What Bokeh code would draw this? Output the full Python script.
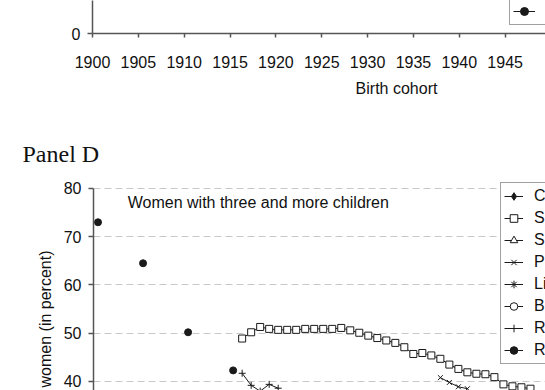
import math
from bokeh.plotting import figure
from bokeh.models import (Range1d, FixedTicker, Legend, LegendItem, Label,
                          ColumnDataSource)
from bokeh.layouts import column, row
from bokeh.transform import dodge
from bokeh.core.properties import value
from bokeh.embed import file_html
from bokeh.resources import INLINE

nan = float("nan")

# Legend order, marker shape and marker fill for every country
countries = ["Czech Republic", "Slovakia", "Slovenia", "Poland",
             "Lithuania", "Bulgaria", "Romania", "Russia"]
marker_types = ["diamond", "square", "triangle", "x",
                "asterisk", "circle", "cross", "circle"]
marker_fills = ["#1a1a1a", "white", "white", "#1a1a1a",
                "#1a1a1a", "white", "#1a1a1a", "#1a1a1a"]

# Panel D: women with three and more children (in percent), by birth cohort
russia_years = list(range(1900, 1916))
russia_share = [73.0, nan, nan, nan, nan, 64.5, nan, nan, nan, nan,
                50.2, nan, nan, nan, nan, 42.3]

slovakia_years = list(range(1916, 1949))
slovakia_share = [48.9, 50.2, 51.3, 50.9, 50.7, 50.7, 50.7, 50.9, 50.9, 50.9,
                  50.9, 51.1, 50.6, 50.1, 49.5, 49.0, 48.5, 48.0, 47.1, 45.7,
                  45.9, 45.4, 44.7, 43.5, 42.6, 41.9, 41.6, 41.5, 40.9, 39.4,
                  39.0, 38.8, 38.5]

poland_years = [1938, 1939, 1940, 1941]
poland_share = [40.8, 39.8, 38.9, 38.5]

romania_years = [1916, 1917, 1918, 1919, 1920]
romania_share = [41.7, 39.2, 38.0, 39.4, 38.6]

panel_d_data = {
    "Slovakia": (slovakia_years, slovakia_share),
    "Poland": (poland_years, poland_share),
    "Romania": (romania_years, romania_share),
    "Russia": (russia_years, russia_share),
}

year_ticks = list(range(1900, 1951, 5))
share_ticks = list(range(0, 81, 10))

FONT = "Liberation Sans"
INK = "#1a1a1a"
TEXT = "#111111"
AXIS = "#555555"


def bare(p):
    p.outline_line_color = None
    p.xgrid.visible = False
    p.ygrid.visible = False


def free_frame(p):
    # keep this plot's frame from being lined up with its neighbours
    try:
        p.frame_align = False
    except AttributeError:
        pass


def style_yaxis(p):
    for ax in p.yaxis:
        ax.ticker = FixedTicker(ticks=share_ticks)
        ax.bounds = (0, 80)
        ax.axis_line_color = AXIS
        ax.axis_line_width = 1.5
        ax.major_tick_line_color = AXIS
        ax.major_tick_line_width = 1.5
        ax.major_tick_out = 5
        ax.major_tick_in = 0
        ax.minor_tick_line_color = None
        ax.major_label_text_font = FONT
        ax.major_label_text_font_size = "16px"
        ax.major_label_text_color = TEXT
        ax.major_label_standoff = 7


def add_series(p, data):
    # one line + marker renderer per country; a country without values
    # gets a single empty (NaN) row so that its legend glyph still shows
    items = []
    for name, marker, fill in zip(countries, marker_types, marker_fills):
        years, share = data.get(name, ([nan], [nan]))
        src = ColumnDataSource(dict(year=years, share=share))
        xpos = dodge("year", 0.5, range=p.x_range)
        ln = p.line(x=xpos, y="share", source=src, line_color=INK, line_width=1)
        sc = p.scatter(x=xpos, y="share", source=src, marker=marker, size=7,
                       line_color=INK, fill_color=fill, line_width=1)
        items.append(LegendItem(label=name, renderers=[ln, sc]))
    return items


def make_legend(items, loc, glyph_width, label_standoff):
    return Legend(items=items, location=loc, orientation="vertical",
                  label_text_font=FONT, label_text_font_size="16px",
                  label_text_color=TEXT, label_standoff=label_standoff,
                  glyph_width=glyph_width, glyph_height=20, label_height=20,
                  spacing=2, padding=3, margin=0,
                  border_line_color="#444444", border_line_width=1,
                  background_fill_color="white", background_fill_alpha=1)


# ---- lower edge of Panel C ----
top = figure(width=545, height=76, x_range=Range1d(1900, 1949.4),
             y_range=Range1d(0, 6.84), output_backend="svg",
             toolbar_location=None, min_border_left=92, min_border_right=0,
             min_border_top=0, min_border_bottom=43)
bare(top)
style_yaxis(top)
xa = top.xaxis[0]
xa.ticker = FixedTicker(ticks=year_ticks)
xa.axis_line_color = AXIS
xa.axis_line_width = 1.5
xa.major_tick_line_color = AXIS
xa.major_tick_line_width = 1.5
xa.major_tick_out = 4
xa.major_tick_in = 0
xa.minor_tick_line_color = None
xa.major_label_text_font = FONT
xa.major_label_text_font_size = "16px"
xa.major_label_text_color = TEXT
xa.major_label_standoff = 18
top.add_layout(make_legend(add_series(top, {}), (417, 8), 22, 12), "center")

# ---- x-axis caption of Panel C and heading of Panel D ----
mid = figure(width=545, height=94, x_range=Range1d(0, 545), y_range=Range1d(0, 94),
             output_backend="svg", toolbar_location=None,
             x_axis_location=None, y_axis_location=None,
             min_border_left=0, min_border_right=0,
             min_border_top=0, min_border_bottom=0)
bare(mid)
free_frame(mid)
mid.text(x=[396], y=[82], text=["Birth cohort"], text_align="center",
         text_baseline="middle", text_font=value(FONT),
         text_font_size="16px", text_color=TEXT)
mid.text(x=[22], y=[17], text=["Panel D"], text_align="left",
         text_baseline="middle", text_font=value("Liberation Serif"),
         text_font_size="24px", text_color=TEXT)

# ---- y-axis caption of Panel D ----
lab = figure(width=60, height=220, x_range=Range1d(0, 60), y_range=Range1d(0, 220),
             output_backend="svg", toolbar_location=None,
             x_axis_location=None, y_axis_location=None,
             min_border_left=0, min_border_right=0,
             min_border_top=0, min_border_bottom=0)
bare(lab)
free_frame(lab)
lab.text(x=[45], y=[140], text=["Share of women (in percent)"], angle=math.pi / 2,
         text_align="right", text_baseline="middle", text_font=value(FONT),
         text_font_size="16px", text_color=TEXT)

# ---- Panel D ----
bot = figure(width=485, height=220, x_range=Range1d(1900, 1950.17),
             y_range=Range1d(38.13, 83.73), output_backend="svg",
             toolbar_location=None, x_axis_location=None,
             min_border_left=32, min_border_right=0,
             min_border_top=0, min_border_bottom=0)
bot.outline_line_color = None
bot.xgrid.visible = False
style_yaxis(bot)
bot.ygrid.ticker = FixedTicker(ticks=share_ticks)
bot.ygrid.grid_line_color = "#c8c8c8"
bot.ygrid.grid_line_dash = "7 4"
bot.ygrid.grid_line_width = 1

bot.add_layout(Label(x=1903.8, y=77.1, text="Women with three and more children",
                     text_font=FONT, text_font_size="16px",
                     text_color=TEXT, text_baseline="middle"))

bot.add_layout(make_legend(add_series(bot, panel_d_data), (407, 26), 19, 11), "center")

layout = column(top, mid, row(lab, bot, spacing=0), spacing=0)
open("out.html", "w").write(file_html(layout, INLINE))
